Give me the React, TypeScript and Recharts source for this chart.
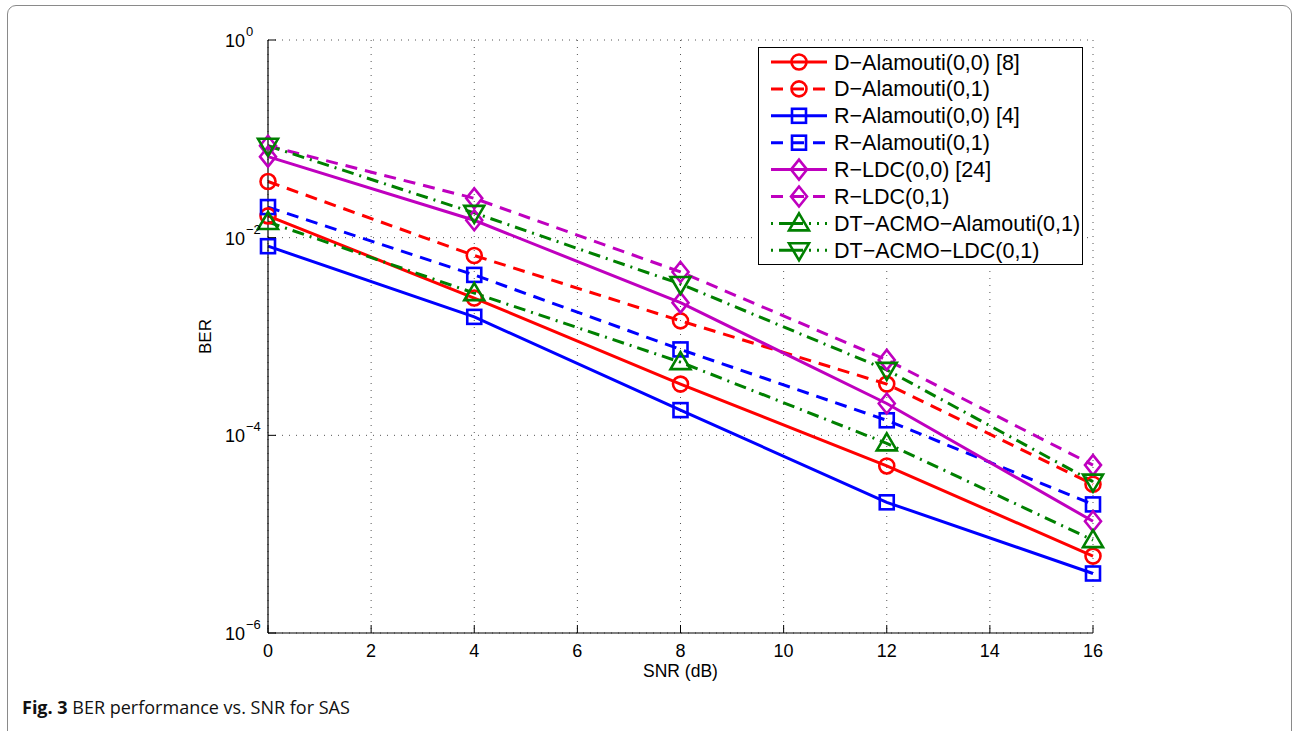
import React from "react";
import { LineChart, Line, XAxis, YAxis, CartesianGrid, Legend } from "recharts";

const snr = [0, 4, 8, 12, 16];
const xTicks = [0, 2, 4, 6, 8, 10, 12, 14, 16];
const yTicks = [1, 1e-2, 1e-4, 1e-6];

const dAlamouti00 = [1.66e-2, 2.45e-3, 3.3e-4, 4.9e-5, 6.0e-6];
const dAlamouti01 = [3.7e-2, 6.6e-3, 1.44e-3, 3.3e-4, 3.2e-5];
const rAlamouti00 = [8.2e-3, 1.58e-3, 1.8e-4, 2.1e-5, 4.0e-6];
const rAlamouti01 = [2.04e-2, 4.2e-3, 7.4e-4, 1.42e-4, 2.0e-5];
const rLdc00 = [6.6e-2, 1.5e-2, 2.2e-3, 2.1e-4, 1.35e-5];
const rLdc01 = [8.5e-2, 2.5e-2, 4.5e-3, 5.8e-4, 5.0e-5];
const dtAcmoAlamouti01 = [1.44e-2, 2.75e-3, 5.5e-4, 8.3e-5, 8.7e-6];
const dtAcmoLdc01 = [8.5e-2, 1.78e-2, 3.4e-3, 4.6e-4, 3.4e-5];

const RED = "#ff0000";
const BLUE = "#0000ff";
const MAGENTA = "#bf00bf";
const GREEN = "#008000";
const DASH = "12 8";
const DASHDOT = "12 6 2 6";
const FONT = "Liberation Sans";

const series = [
  { key: "dA00", name: "D\u2212Alamouti(0,0) [8]", values: dAlamouti00, color: RED, dash: undefined, shape: "circle" },
  { key: "dA01", name: "D\u2212Alamouti(0,1)", values: dAlamouti01, color: RED, dash: DASH, shape: "circle" },
  { key: "rA00", name: "R\u2212Alamouti(0,0) [4]", values: rAlamouti00, color: BLUE, dash: undefined, shape: "square" },
  { key: "rA01", name: "R\u2212Alamouti(0,1)", values: rAlamouti01, color: BLUE, dash: DASH, shape: "square" },
  { key: "rL00", name: "R\u2212LDC(0,0) [24]", values: rLdc00, color: MAGENTA, dash: undefined, shape: "diamond" },
  { key: "rL01", name: "R\u2212LDC(0,1)", values: rLdc01, color: MAGENTA, dash: DASH, shape: "diamond" },
  { key: "dtA01", name: "DT\u2212ACMO\u2212Alamouti(0,1)", values: dtAcmoAlamouti01, color: GREEN, dash: DASHDOT, shape: "up" },
  { key: "dtL01", name: "DT\u2212ACMO\u2212LDC(0,1)", values: dtAcmoLdc01, color: GREEN, dash: DASHDOT, shape: "down" },
];

const data = snr.map((x, i) => {
  const row: Record<string, number> = { snr: x };
  series.forEach((s) => (row[s.key] = s.values[i]));
  return row;
});

function Marker({ shape, color, cx, cy }: { shape: string; color: string; cx: number; cy: number }) {
  const p = { fill: "none", stroke: color, strokeWidth: 2.6 };
  if (shape === "circle") return <circle cx={cx} cy={cy} r={7.5} {...p} />;
  if (shape === "square") return <rect x={cx - 7} y={cy - 7} width={14} height={14} {...p} />;
  if (shape === "diamond")
    return <polygon points={`${cx},${cy - 10} ${cx + 8},${cy} ${cx},${cy + 10} ${cx - 8},${cy}`} {...p} />;
  if (shape === "up")
    return <polygon points={`${cx},${cy - 10} ${cx + 10},${cy + 7} ${cx - 10},${cy + 7}`} {...p} />;
  return <polygon points={`${cx},${cy + 10} ${cx + 10},${cy - 7} ${cx - 10},${cy - 7}`} {...p} />;
}

const makeDot = (shape: string, color: string) => (props: any) =>
  <Marker key={props.key ?? `${shape}-${props.index}`} shape={shape} color={color} cx={props.cx} cy={props.cy} />;

const XTick = (props: any) => {
  const { x, y, payload } = props;
  return (
    <g>
      <line x1={x} y1={y} x2={x} y2={y - 8} stroke="#000" strokeWidth={1} />
      <text x={x} y={y + 24} textAnchor="middle" fontSize={18} fontFamily={FONT} fill="#000">
        {payload.value}
      </text>
    </g>
  );
};

const YTick = (props: any) => {
  const { x, y, payload } = props;
  const e = Math.round(Math.log10(payload.value));
  return (
    <g>
      <line x1={x} y1={y} x2={x + 8} y2={y} stroke="#000" strokeWidth={1} />
      <text x={x - 23} y={y + 7} textAnchor="end" fontSize={18} fontFamily={FONT} fill="#000">
        10
      </text>
      <text x={x - 22} y={y - 4} textAnchor="start" fontSize={13} fontFamily={FONT} fill="#000">
        {e === 0 ? "0" : `\u2212${Math.abs(e)}`}
      </text>
    </g>
  );
};

const LegendBox = () => (
  <div
    style={{
      width: 323,
      height: 216,
      border: "1.5px solid #000",
      background: "#fff",
      position: "relative",
    }}
  >
    <svg width={323} height={216} style={{ position: "absolute", left: 0, top: 0 }}>
      {series.map((s, i) => {
        const cy = 14 + i * 26.9;
        return (
          <g key={s.key}>
            <line
              x1={12}
              x2={68}
              y1={cy}
              y2={cy}
              stroke={s.color}
              strokeWidth={3}
              strokeDasharray={s.dash === DASH ? "12 9" : s.dash === DASHDOT ? "2 6 12 0 0 0 12 6 2 6" : undefined}
            />
            <Marker shape={s.shape} color={s.color} cx={40} cy={cy} />
            <text x={75} y={cy + 7.5} fontSize={21.5} fill="#000" fontFamily={FONT}>
              {s.name}
            </text>
          </g>
        );
      })}
    </svg>
  </div>
);

export default function App() {
  return (
    <div
      style={{
        position: "absolute",
        left: 0,
        top: 0,
        width: 1294,
        height: 731,
        overflow: "hidden",
        background: "#fff",
      }}
    >
      <div
        style={{
          position: "absolute",
          left: 7,
          top: 5,
          width: 1283,
          height: 760,
          border: "1.5px solid #8a8a8a",
          borderRadius: 9,
        }}
      />
      <div style={{ position: "absolute", left: 0, top: 0 }}>
        <LineChart width={1294} height={731} data={data} margin={{ top: 40, right: 201, left: 0, bottom: 48 }}>
          <CartesianGrid stroke="#555" strokeDasharray="1 6" strokeWidth={1} />
          <XAxis
            dataKey="snr"
            type="number"
            domain={[0, 16]}
            ticks={xTicks}
            height={50}
            tickSize={0}
            tickMargin={0}
            tickLine={false}
            axisLine={{ stroke: "#000", strokeWidth: 1.2 }}
            tick={<XTick />}
            interval={0}
            label={(p: any) => (
              <text
                x={p.viewBox.x + p.viewBox.width / 2}
                y={p.viewBox.y + 44}
                textAnchor="middle"
                fontSize={17.5}
                fontFamily={FONT}
                fill="#000"
              >
                SNR (dB)
              </text>
            )}
          />
          <YAxis
            scale="log"
            domain={[1e-6, 1]}
            ticks={yTicks}
            allowDataOverflow
            width={268}
            tickSize={0}
            tickMargin={0}
            tickLine={false}
            axisLine={{ stroke: "#000", strokeWidth: 1.2 }}
            tick={<YTick />}
            interval={0}
            label={(p: any) => (
              <text
                x={p.viewBox.x + p.viewBox.width - 57}
                y={p.viewBox.y + p.viewBox.height / 2}
                transform={`rotate(-90 ${p.viewBox.x + p.viewBox.width - 57} ${p.viewBox.y + p.viewBox.height / 2})`}
                textAnchor="middle"
                fontSize={17}
                fontFamily={FONT}
                fill="#000"
              >
                BER
              </text>
            )}
          />
          {series.map((s) => (
            <Line
              key={s.key}
              dataKey={s.key}
              name={s.name}
              stroke={s.color}
              strokeWidth={3}
              strokeDasharray={s.dash}
              dot={makeDot(s.shape, s.color)}
              activeDot={false}
              isAnimationActive={false}
            />
          ))}
          <Legend
            layout="horizontal"
            verticalAlign="middle"
            align="center"
            content={<LegendBox />}
            wrapperStyle={{ position: "absolute", left: 758, top: 47, width: 326, height: 219 }}
          />
        </LineChart>
      </div>
      <div
        style={{
          position: "absolute",
          left: 22,
          top: 695,
          fontFamily: "'Open Sans', 'Noto Sans', sans-serif",
          fontSize: 18,
          color: "#111",
        }}
      >
        <b>Fig. 3</b> BER performance vs. SNR for SAS
      </div>
    </div>
  );
}
